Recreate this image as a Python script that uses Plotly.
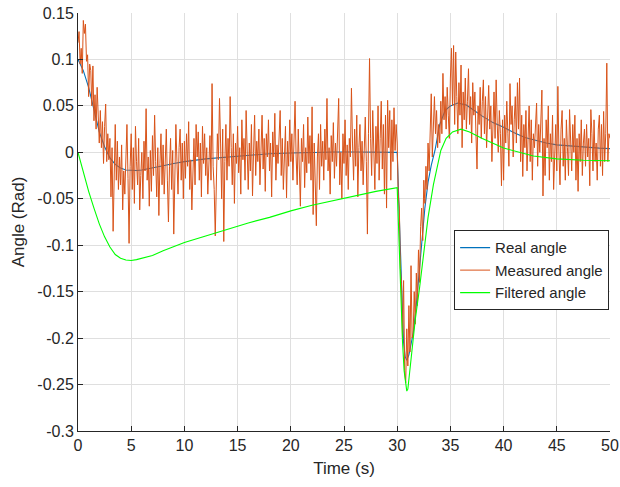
import plotly.graph_objects as go

# ---------------- data ----------------
# Measured angle, sampled every 0.1 s from 0 to 50 s
t_meas = [round(i * 0.1, 1) for i in range(501)]
measured = [
    0.118, 0.130, 0.095, 0.112, 0.085, 0.142, 0.128, 0.138, 0.098, 0.105,
    0.060, 0.095, 0.088, 0.050, 0.093, 0.034, 0.062, 0.025, 0.070, 0.040,
    0.010, 0.045, 0.005, 0.033, -0.012, 0.028, 0.052, -0.010, 0.020, -0.008,
    0.015, -0.048, 0.005, -0.085, -0.010, 0.030, -0.030, 0.012, -0.040, -0.005,
    -0.035, 0.008, -0.062, -0.020, -0.045, 0.010, 0.030, -0.028, -0.098, -0.015,
    0.020, -0.040, 0.005, -0.055, 0.028, -0.010, -0.035, 0.015, -0.062, -0.025,
    0.000, -0.050, 0.012, -0.020, 0.047, -0.030, -0.005, -0.058, 0.002, -0.042,
    0.018, -0.025, 0.040, -0.010, -0.048, 0.005, -0.068, -0.012, 0.020, -0.035,
    0.008, -0.045, -0.005, 0.025, -0.030, -0.075, -0.015, 0.015, -0.040, 0.002,
    -0.088, -0.020, 0.030, -0.010, -0.045, 0.005, 0.025, -0.030, 0.010, -0.050,
    0.012, -0.028, 0.020, -0.015, 0.033, -0.040, -0.008, -0.062, -0.020, 0.015,
    -0.035, 0.030, -0.005, 0.022, -0.030, 0.010, -0.048, 0.028, -0.012, 0.020,
    -0.025, 0.005, -0.045, -0.010, 0.018, -0.030, 0.074, -0.015, -0.040, -0.090,
    -0.020, 0.020, -0.008, 0.058, 0.010, -0.050, 0.025, -0.096, -0.010, 0.030,
    -0.030, 0.015, -0.015, 0.060, 0.005, -0.035, 0.020, -0.055, 0.010, -0.012,
    0.028, -0.022, 0.005, -0.045, 0.035, -0.008, 0.015, -0.030, 0.045, -0.015,
    -0.040, 0.010, -0.020, 0.030, -0.047, 0.000, 0.040, -0.025, 0.012, -0.010,
    0.025, -0.035, 0.005, 0.040, -0.018, 0.015, -0.042, 0.020, -0.005, 0.035,
    -0.020, 0.010, -0.048, 0.022, -0.005, 0.042, -0.030, 0.008, -0.012, 0.030,
    0.045, -0.025, 0.015, -0.040, 0.000, 0.028, -0.049, 0.012, -0.015, 0.035,
    -0.010, 0.020, -0.030, 0.010, 0.055, -0.005, -0.035, 0.025, -0.020, -0.058,
    0.015, -0.010, 0.030, -0.038, 0.005, -0.022, 0.038, -0.012, 0.018, -0.030,
    0.049, -0.067, 0.010, -0.025, -0.079, -0.005, 0.020, -0.040, 0.030, -0.015,
    0.012, -0.030, 0.025, -0.008, 0.058, -0.020, 0.005, -0.045, 0.018, -0.010,
    0.032, -0.028, 0.010, -0.015, 0.025, 0.058, -0.035, 0.000, -0.050, 0.020,
    -0.012, 0.035, -0.025, 0.008, -0.040, 0.015, -0.005, 0.069, 0.010, -0.030,
    0.025, -0.015, 0.040, -0.048, 0.005, 0.030, -0.020, 0.012, -0.035, 0.018,
    0.038, -0.010, -0.088, 0.020, 0.101, 0.015, -0.025, 0.045, 0.000, -0.040,
    0.028, -0.012, 0.050, -0.030, 0.015, 0.055, -0.018, 0.030, -0.045, 0.040,
    -0.060, 0.056, 0.005, 0.045, -0.030, 0.035, -0.010, 0.048, 0.002, 0.030,
    0.010, -0.045, -0.060, -0.125, -0.140, -0.200, -0.138, -0.235, -0.248, -0.190,
    -0.230, -0.165, -0.215, -0.122, -0.200, -0.195, -0.150, -0.185, -0.130, -0.165,
    -0.105, -0.140, -0.080, -0.060, -0.095, -0.030, -0.055, -0.015, -0.040, 0.010,
    -0.020, 0.025, 0.063, -0.005, 0.040, 0.060, 0.020, 0.045, 0.005, 0.030,
    0.010, 0.055, 0.020, 0.085, 0.035, 0.060, 0.025, 0.070, 0.040, 0.015,
    0.080, 0.112, 0.050, 0.115, 0.030, 0.108, 0.060, 0.020, 0.075, 0.040,
    0.094, 0.005, 0.065, 0.035, 0.080, 0.025, 0.055, 0.090, 0.030, 0.060,
    0.010, 0.075, 0.040, 0.065, 0.020, -0.018, 0.050, 0.030, 0.070, 0.015,
    0.055, 0.078, 0.020, 0.060, 0.005, 0.045, 0.072, 0.025, 0.050, -0.010,
    0.040, 0.065, 0.015, 0.078, 0.030, 0.000, 0.045, 0.020, -0.036, 0.035,
    -0.030, 0.040, 0.010, 0.055, 0.020, -0.015, 0.074, 0.030, 0.050, -0.005,
    0.035, 0.060, 0.010, 0.075, 0.025, 0.080, -0.010, 0.040, -0.026, 0.030,
    0.005, 0.045, -0.020, 0.025, 0.050, -0.010, 0.035, -0.030, 0.020, 0.005,
    0.040, 0.053, -0.015, 0.030, 0.000, 0.045, 0.067, -0.047, 0.015, -0.025,
    0.035, 0.005, 0.050, -0.030, 0.020, -0.010, 0.040, -0.040, 0.010, 0.030,
    -0.020, 0.071, 0.000, -0.035, 0.025, 0.045, -0.015, 0.015, -0.030, 0.035,
    0.005, -0.025, 0.046, 0.010, -0.020, 0.030, 0.000, 0.040, -0.030, 0.015,
    -0.042, 0.020, -0.010, 0.035, -0.025, 0.010, 0.025, -0.015, 0.030, -0.005,
    0.015, -0.036, 0.046, 0.020, -0.020, 0.035, -0.010, 0.010, -0.030, 0.025,
    0.040, -0.015, 0.030, -0.025, 0.044, -0.010, 0.020, 0.096, -0.010, 0.020,
    0.015,
]

# Real angle
t_real = [0, 0.5, 1, 1.5, 2, 2.5, 3, 3.5, 4, 4.5, 5, 5.5, 6, 7, 8, 9, 10, 12, 14, 16,
          18, 20, 22, 24, 26, 28, 30, 30.2, 30.4, 30.6, 30.75, 30.9, 31.1, 31.3, 31.5,
          31.75, 32.05, 32.3, 32.6, 32.9, 33.2, 33.55, 34.0, 34.5, 35.0, 35.7, 36.5,
          37.0, 38, 39, 40, 41, 42, 43, 44, 45, 46, 47, 48, 49, 50]
real = [0.100, 0.088, 0.070, 0.045, 0.022, 0.006, -0.006, -0.013, -0.017, -0.019,
        -0.0195, -0.0196, -0.019, -0.017, -0.0145, -0.012, -0.010, -0.007, -0.005, -0.003,
        -0.0015, -0.0007, 0.0, 0.0003, 0.0003, 0.0001, 0.0, -0.07, -0.15, -0.205,
        -0.22, -0.224, -0.218, -0.205, -0.195, -0.17, -0.131, -0.098, -0.06, -0.032,
        -0.014, 0.002, 0.030, 0.045, 0.050, 0.053, 0.051, 0.047, 0.039, 0.032,
        0.027, 0.021, 0.016, 0.013, 0.010, 0.008, 0.007, 0.006, 0.005, 0.0045, 0.004]

# Filtered angle
t_filt = [0, 0.5, 1, 1.5, 2, 2.5, 3, 3.5, 4, 4.5, 5, 5.5, 6, 7, 8, 9, 10, 12, 14, 16,
          18, 20, 22, 24, 26, 28, 30, 30.1, 30.2, 30.37, 30.5, 30.65, 30.8, 30.9, 31.0,
          31.1, 31.3, 31.7, 32.1, 32.5, 32.9, 33.4, 33.7, 34.1, 34.6, 35.2, 36.0, 36.8,
          38, 40, 42.8, 45, 47.5, 50]
filtered = [0.0, -0.022, -0.042, -0.060, -0.077, -0.091, -0.102, -0.110, -0.114, -0.116,
            -0.1165, -0.1155, -0.114, -0.111, -0.106, -0.1015, -0.097, -0.090, -0.083, -0.076,
            -0.070, -0.063, -0.057, -0.052, -0.047, -0.042, -0.038, -0.075, -0.11, -0.153,
            -0.204, -0.235, -0.252, -0.257, -0.255, -0.245, -0.219, -0.18, -0.146, -0.108,
            -0.07, -0.035, -0.018, 0.002, 0.015, 0.022, 0.025, 0.022, 0.015, 0.0046,
            -0.004, -0.007, -0.0085, -0.009]

x_ticks = [0, 5, 10, 15, 20, 25, 30, 35, 40, 45, 50]
y_ticks = [0.15, 0.1, 0.05, 0, -0.05, -0.1, -0.15, -0.2, -0.25, -0.3]
y_ticktext = ["0.15", "0.1", "0.05", "0", "-0.05", "-0.1", "-0.15", "-0.2", "-0.25", "-0.3"]

# ---------------- figure ----------------
AX = "#262626"
GRID = "#dfdfdf"
FONT = "Liberation Sans, Arial, sans-serif"

fig = go.Figure()
fig.add_trace(go.Scatter(x=t_real, y=real, mode="lines", name="Real angle",
                         line=dict(color="#0072BD", width=1.1)))
fig.add_trace(go.Scatter(x=t_meas, y=measured, mode="lines", name="Measured angle",
                         line=dict(color="#D95319", width=1)))
fig.add_trace(go.Scatter(x=t_filt, y=filtered, mode="lines", name="Filtered angle",
                         line=dict(color="#00FF00", width=1.1)))

fig.update_layout(
    width=620, height=487,
    margin=dict(l=78, r=10, t=13, b=56, autoexpand=False),
    paper_bgcolor="white", plot_bgcolor="white",
    font=dict(family=FONT, color=AX, size=16),
    showlegend=True,
    legend=dict(
        x=0.707, y=0.48, xanchor="left", yanchor="top",
        bgcolor="white", bordercolor=AX, borderwidth=1,
        font=dict(size=15, color=AX, family=FONT),
        tracegroupgap=0, itemwidth=30,
    ),
    xaxis=dict(
        range=[0, 50], tickvals=x_ticks, ticks="inside", ticklen=5, tickcolor=AX,
        showline=True, linecolor=AX, linewidth=1, mirror=False, automargin=False,
        showgrid=True, gridcolor=GRID, gridwidth=1, zeroline=False,
        tickfont=dict(size=16, color=AX),
        title=dict(text="Time (s)", font=dict(size=17, color=AX), standoff=8),
    ),
    yaxis=dict(
        range=[-0.3, 0.15], tickvals=y_ticks, ticktext=y_ticktext, ticks="inside",
        ticklen=5, tickcolor=AX,
        showline=True, linecolor=AX, linewidth=1, mirror=False, automargin=False,
        showgrid=True, gridcolor=GRID, gridwidth=1, zeroline=False,
        tickfont=dict(size=16, color=AX),
        title=dict(text="Angle (Rad)", font=dict(size=17, color=AX), standoff=8),
    ),
)

fig.write_html("out.html")
